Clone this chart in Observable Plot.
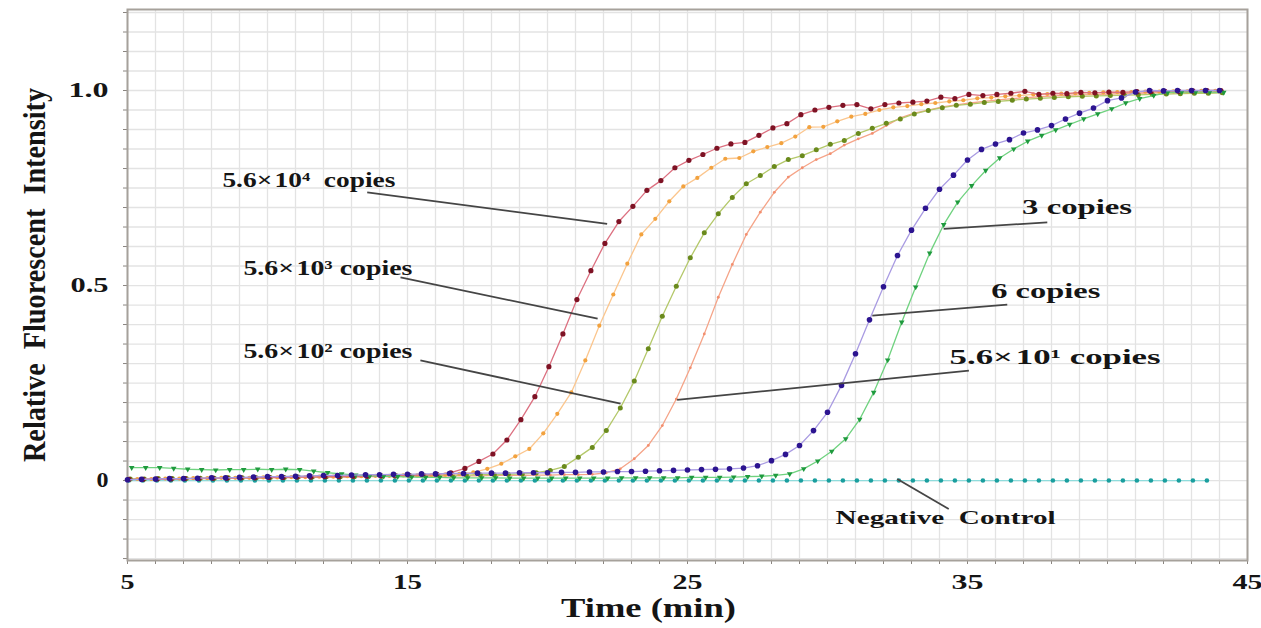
<!DOCTYPE html>
<html>
<head>
<meta charset="utf-8">
<script src="https://cdn.jsdelivr.net/npm/d3@7"></script>
<script src="https://cdn.jsdelivr.net/npm/@observablehq/plot@0.6"></script>
<style>
  html, body { margin: 0; padding: 0; background: #ffffff; }
  #chart svg { display: block; }
</style>
</head>
<body>
<div id="chart"></div>
<script>
// ---------------- data ----------------
const step = 0.5; // sampling interval (min)

const seriesNames = ["5.6e4", "5.6e3", "5.6e2", "5.6e1", "6 copies", "3 copies", "Negative Control"];
const seriesStart = [5.05, 5.35, 5.1, 5.1, 5.0, 5.15, 5.05]; // time of first reading (min)

const copies56e4 = [0.003,0.003,0.004,0.004,0.005,0.005,0.006,0.006,0.007,0.007,
  0.008,0.008,0.009,0.009,0.010,0.010,0.011,0.011,0.012,0.012,
  0.013,0.014,0.016,0.020,
  0.031,0.049,0.068,0.104,0.156,0.215,0.292,0.376,0.464,0.538,
  0.608,0.664,0.703,0.744,0.769,0.802,0.821,0.836,0.852,0.863,
  0.867,0.885,0.904,0.915,0.938,0.950,0.957,0.962,0.964,0.953,
  0.964,0.968,0.970,0.973,0.983,0.979,0.990,0.987,0.990,0.993,
  0.998,
  0.990,0.993,0.992,0.995,0.994,0.996,0.995,0.997,0.997,0.998,0.998,0.999,1.000,1.000];

const copies56e3 = [0.004,0.004,0.005,0.005,0.006,0.006,0.007,0.007,0.007,0.008,
  0.008,0.009,0.009,0.010,0.010,0.011,0.011,0.012,0.012,0.013,
  0.013,0.014,0.015,0.017,
  0.021,0.030,0.043,0.062,0.081,0.121,0.171,0.226,0.308,0.397,
  0.477,0.556,0.631,0.671,0.716,0.754,0.776,0.802,0.825,0.827,
  0.844,0.855,0.865,0.882,0.906,0.907,0.921,0.933,0.940,0.950,
  0.957,0.960,0.965,0.968,0.972,0.975,0.980,0.982,0.985,0.987,
  0.990,0.991,0.992,0.993,0.994,0.995,0.996,0.996,0.997,0.997,
  0.998,0.998,0.999,0.999];

const copies56e2 = [0.004,0.004,0.005,0.005,0.005,0.006,0.006,0.007,0.007,0.007,
  0.008,0.008,0.009,0.009,0.010,0.010,0.010,0.011,0.011,0.012,
  0.012,0.013,0.013,0.014,0.014,0.015,0.015,0.016,
  0.017,0.020,0.026,0.036,0.060,0.085,0.128,0.186,0.255,0.338,
  0.421,0.498,0.571,0.635,0.684,0.726,0.761,0.782,0.805,0.823,
  0.833,0.848,0.862,0.872,0.890,0.903,0.916,0.927,0.940,0.949,
  0.956,0.962,0.965,0.969,0.972,0.975,0.978,0.980,0.982,0.984,
  0.985,0.986,0.987,0.988,0.989,0.990,0.991,0.992,0.993,0.993,
  0.994];

const copies56e1 = [0.003,0.003,0.004,0.004,0.005,0.005,0.005,0.006,0.006,0.006,
  0.007,0.007,0.008,0.008,0.008,0.009,0.009,0.010,0.010,0.010,
  0.011,0.011,0.011,0.012,0.012,0.012,0.013,0.013,0.013,0.014,
  0.014,0.015,0.015,
  0.016,0.020,0.030,0.056,0.090,0.141,0.209,0.289,0.376,0.470,
  0.554,0.631,0.688,0.739,0.778,0.802,0.823,0.838,0.860,0.876,
  0.890,0.910,0.930,0.942,0.950,0.958,0.963,0.968,0.972,0.976,
  0.979,0.982,0.984,0.986,0.988,0.989,0.990,0.991,0.992,0.993,
  0.994,0.995,0.995,0.996,0.996,0.997];

const copies6 = [0.002,0.003,0.004,0.005,0.005,0.006,0.007,0.007,0.008,0.009,
  0.010,0.010,0.011,0.012,0.013,0.013,0.014,0.015,0.015,0.016,
  0.016,0.017,0.017,0.018,0.018,0.019,0.019,0.019,0.020,0.020,
  0.020,0.021,0.021,0.022,0.022,0.023,0.023,0.024,0.025,0.026,
  0.027,0.028,
  0.029,0.030,0.032,0.038,0.051,0.067,0.090,0.128,0.175,0.244,
  0.325,0.412,0.497,0.577,0.642,0.698,0.747,0.783,0.822,0.849,
  0.863,0.874,0.891,0.899,0.910,0.927,0.942,0.955,0.974,0.981,
  0.996,1.000,0.999,1.000,1.000,1.000,1.000];

const copies3 = [0.033,0.033,0.033,0.031,0.029,0.028,0.027,0.028,0.028,0.029,
  0.028,0.029,0.028,0.024,0.020,0.017,0.014,0.012,0.011,0.010,
  0.009,0.008,0.008,0.007,0.007,0.007,0.007,0.006,0.006,0.006,
  0.006,0.006,0.006,0.006,0.006,0.007,0.007,0.007,0.007,0.007,
  0.008,0.008,0.008,0.009,0.010,0.011,0.013,0.017,0.030,0.050,
  0.075,0.107,0.157,0.226,0.309,0.406,0.496,0.583,0.656,0.714,
  0.756,0.795,0.827,0.850,0.870,0.885,0.899,0.913,0.927,0.940,
  0.953,0.968,0.979,0.987,0.995,0.996,0.996,0.996,0.995];

const negativeControl = [0,0,0,0,0,0,0,0,0,0,
  0,0,0,0,0,0,0,0,0,0,
  0,0,0,0,0,0,0,0,0,0,
  0,0,0,0,0,0,0,0,0,0,
  0,0,0,0,0,0,0,0,0,0,
  0,0,0,0,0,0,0,0,0,0,
  0,0,0,0,0,0,0,0,0,0,
  0,0,0,0,0,0,0,0];

const seriesValues = [copies56e4, copies56e3, copies56e2, copies56e1, copies6, copies3, negativeControl];

// styles per series
const lineColors = ["#dc7080", "#fbc68e", "#b4c86a", "#f5a488", "#a99be2", "#6fd27f", "#8fdcdc"];
const dotColors  = ["#7e1224", "#f2a23e", "#6a8a1c", "#f28e6e", "#2c1490", "#1f9a3e", "#1a9e9e"];
const dotRadius  = [2.6, 2.1, 2.5, 1.4, 2.8, 2.1, 2.3];
const dotSymbol  = ["circle", "circle", "circle", "circle", "circle", "triangle", "circle"];
const dotRotate  = [0, 0, 0, 0, 0, 180, 0];

// annotations
const labelText = ["5.6×\u200a10⁴\u00a0 copies", "5.6×\u200a10³ copies", "5.6×\u200a10² copies",
                   "3 copies", "6 copies", "5.6×\u200a10¹ copies", "Negative\u00a0 Control"];
const labelX = [8.39, 9.14, 9.14, 36.95, 35.85, 34.36, 30.29];
const labelY = [0.770, 0.546, 0.333, 0.701, 0.487, 0.318, -0.096];
const labelWidth = [173, 169, 169, 110, 109, 211, 220];
const labelSize = [22, 22, 22, 22, 22, 22, 19];

const leaderX1 = [13.56, 14.75, 15.46, 34.15, 31.60, 24.63, 32.49];
const leaderY1 = [0.739, 0.521, 0.308, 0.645, 0.423, 0.207, 0.004];
const leaderX2 = [22.13, 21.79, 22.61, 37.85, 36.42, 35.05, 34.33];
const leaderY2 = [0.658, 0.415, 0.197, 0.662, 0.451, 0.282, -0.073];

const xTicks = [5, 15, 25, 35, 45];
const xTickWidth = [14, 29, 30, 32, 30];
const yTicks = [0, 0.5, 1.0];
const yTickLabels = ["0", "0.5", "1.0"];
const yTickWidth = [12, 38, 40];

const xTitle = "Time (min)";
const yTitle = "Relative\u00a0 Fluorescent\u00a0 Intensity";

// ---------------- build ----------------
const seriesData = seriesValues.map((vals, s) =>
  vals.map((v, i) => ({series: seriesNames[s], t: seriesStart[s] + i * step, v})));

const labels = labelText.map((text, i) => ({text, x: labelX[i], y: labelY[i], size: labelSize[i]}));
const leaders = leaderX1.map((x1, i) => ({x1, y1: leaderY1[i], x2: leaderX2[i], y2: leaderY2[i]}));

const xGrid = d3.range(5, 46, 1);
const yGrid = d3.range(-4, 25).map(k => +(k * 0.05).toFixed(2));

const drawOrder = [6, 3, 2, 1, 0, 5, 4];
const seriesMarks = [];
for (const s of drawOrder) {
  seriesMarks.push(Plot.line(seriesData[s], {x: "t", y: "v", stroke: lineColors[s], strokeWidth: 1.3}));
  seriesMarks.push(Plot.dot(seriesData[s], {x: "t", y: "v", fill: dotColors[s], stroke: "none",
    r: dotRadius[s], symbol: dotSymbol[s], rotate: dotRotate[s]}));
}

const plot = Plot.plot({
  width: 1261,
  height: 628,
  marginLeft: 127,
  marginRight: 14,
  marginTop: 9,
  marginBottom: 68,
  style: {fontFamily: "'Liberation Serif', 'Times New Roman', serif", fontWeight: "bold", background: "#ffffff", color: "#151515"},
  x: {domain: [5, 45], label: null},
  y: {domain: [-0.205, 1.2077], label: null},
  marks: [
    Plot.gridX(xGrid, {stroke: "#e3e3e3", strokeOpacity: 1, strokeWidth: 1.3}),
    Plot.gridY(yGrid, {stroke: "#e3e3e3", strokeOpacity: 1, strokeWidth: 1.3}),
    Plot.axisX(xGrid, {tickSize: 4, tickFormat: () => "", stroke: "#8a8580", label: null}),
    Plot.axisY(yGrid, {tickSize: 4, tickFormat: () => "", stroke: "#8a8580", label: null}),
    Plot.axisX(xTicks, {tickSize: 0, tickPadding: 14, fontSize: 20, fontWeight: "bold", label: null, tickFormat: d => String(d)}),
    Plot.axisY(yTicks, {tickSize: 0, tickPadding: 19, fontSize: 20, fontWeight: "bold", label: null,
      tickFormat: d => yTickLabels[yTicks.indexOf(d)]}),
    Plot.frame({stroke: "#a6a19b", strokeWidth: 2}),
    ...seriesMarks,
    Plot.link(leaders, {x1: "x1", y1: "y1", x2: "x2", y2: "y2", stroke: "#454545", strokeWidth: 1.8}),
    Plot.text(labels, {x: "x", y: "y", text: "text", fontSize: "size", textAnchor: "start", fill: "#151515", fontWeight: "bold"}),
    Plot.text([yTitle], {text: d => d, frameAnchor: "left", rotate: -90, textAnchor: "start", dx: -93, dy: 177, fontSize: 32, fontWeight: "bold", fill: "#151515"}),
    Plot.text([xTitle], {text: d => d, frameAnchor: "bottom", dx: -39, dy: 56, fontSize: 27, fontWeight: "bold", fill: "#151515"})
  ]
});

document.getElementById("chart").append(plot);

// stretch text horizontally to mimic the wide bold face of the original
const widths = new Map();
labelText.forEach((t, i) => widths.set(t, labelWidth[i]));
xTicks.forEach((t, i) => widths.set(String(t), xTickWidth[i]));
yTickLabels.forEach((t, i) => widths.set(t, yTickWidth[i]));
widths.set(yTitle, 374);
widths.set(xTitle, 175);
d3.select(plot).selectAll("text").each(function () {
  const s = this.textContent;
  if (widths.has(s)) {
    this.setAttribute("textLength", widths.get(s));
    this.setAttribute("lengthAdjust", "spacingAndGlyphs");
  }
});
</script>
</body>
</html>
